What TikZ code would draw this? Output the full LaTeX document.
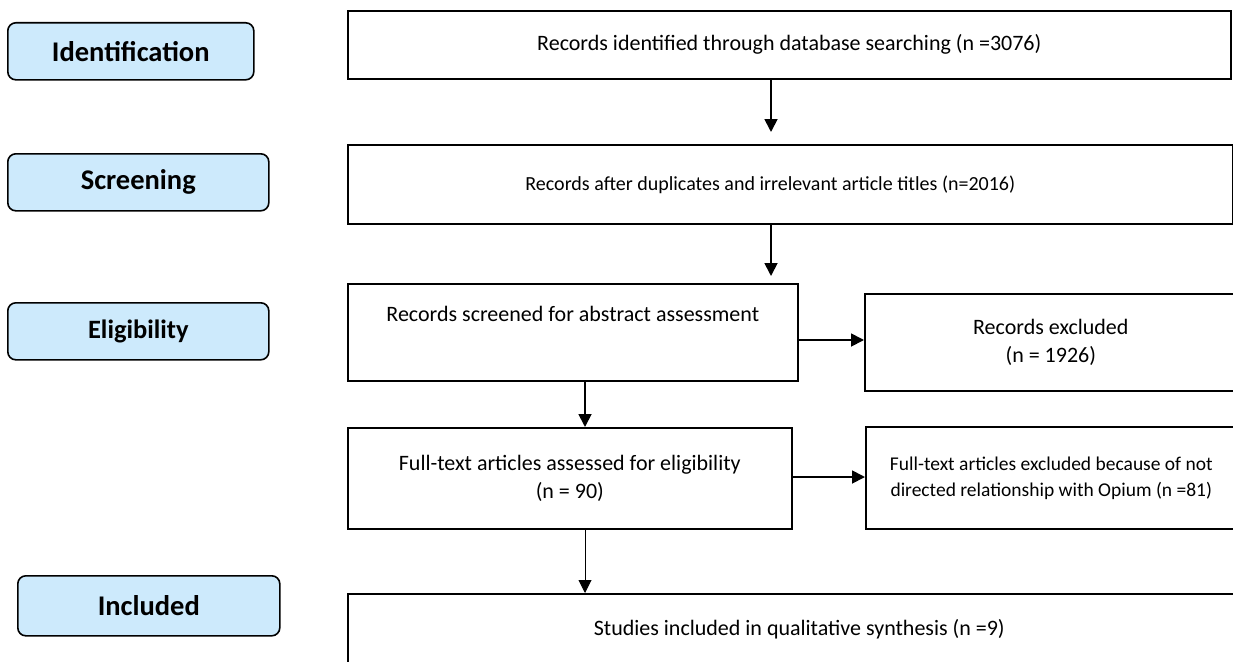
\documentclass[tikz,border=0pt]{standalone}
\usepackage{fontspec}
\setmainfont{Carlito}
\usetikzlibrary{
  arrows.meta,
  positioning,
  calc
}
\definecolor{phaseblue}{RGB}{205,234,252}
\tikzset{
  phase/.style    = {draw, line width=1.6pt, rounded corners=8pt,
                     fill=phaseblue, anchor=north west, inner sep=0pt,
                     font=\fontsize{28.5}{32}\selectfont\bfseries},
  box/.style      = {draw, line width=1.6pt, anchor=north west,
                     align=center, inner sep=0pt,
                     font=\fontsize{22}{28}\selectfont},
  arrow/.style    = {-{Triangle[length=13pt,width=13pt]}, line width=1.8pt},
  thinarrow/.style= {-{Triangle[length=13pt,width=13pt]}, line width=0.9pt},
}

\begin{document}
\begin{tikzpicture}[x=1pt,y=-1pt]
\useasboundingbox (0,0) rectangle (1233,661);
\clip (0,0) rectangle (1233,661);

% stage labels
\node[phase, minimum width=246, minimum height=57] (ident)  at (7,22)   {Identification};
\node[phase, minimum width=261, minimum height=57] (screen) at (7,153)  {Screening};
\node[phase, minimum width=261, minimum height=57,
      font=\fontsize{26.5}{30}\selectfont\bfseries] (elig) at (7,302) {Eligibility};
\node[phase, minimum width=262, minimum height=60] (incl)   at (17,575) {Included};

% flow boxes
\node[box, minimum width=883, minimum height=68] (found) at (347,10)
   {Records identified through database searching (n =3076)};
\node[box, minimum width=885, minimum height=79, font=\fontsize{20}{28}\selectfont] (dup) at (347,144)
   {Records after duplicates and irrelevant article titles (n=2016)\hspace*{40pt}};
\node[box, minimum width=450, minimum height=97] (scr) at (347,283)
   {Records screened for abstract assessment\\ \strut};
\node[box, minimum width=372, minimum height=97] (excl) at (864,293)
   {Records excluded\\ (n = 1926)};
\node[box, minimum width=444, minimum height=101] (full) at (347,427)
   {Full-text articles assessed for eligibility\\ (n = 90)};
\node[box, minimum width=371, minimum height=102, font=\fontsize{19.5}{26}\selectfont] (excl2) at (865,426)
   {Full-text articles excluded because of not\\ directed relationship with Opium (n =81)};
\node[box, minimum width=903, minimum height=70] (studies) at (347,593)
   {Studies included in qualitative synthesis (n =9)};

% connectors
\coordinate (colA) at (771,0);
\coordinate (colB) at (585,0);
\coordinate (rowA) at (0,340);
\coordinate (rowB) at (0,477);
\draw[arrow, shorten >=12pt] (found.south -| colA) -- (dup.north -| colA);
\draw[arrow, shorten >=7pt]  (dup.south -| colA) -- (scr.north -| colA);
\draw[arrow] (scr.east |- rowA) -- (excl.west |- rowA);
\draw[arrow] (scr.south -| colB) -- (full.north -| colB);
\draw[arrow] (full.east |- rowB) -- (excl2.west |- rowB);
\draw[thinarrow] (full.south -| colB) -- (studies.north -| colB);
\end{tikzpicture}
\end{document}
